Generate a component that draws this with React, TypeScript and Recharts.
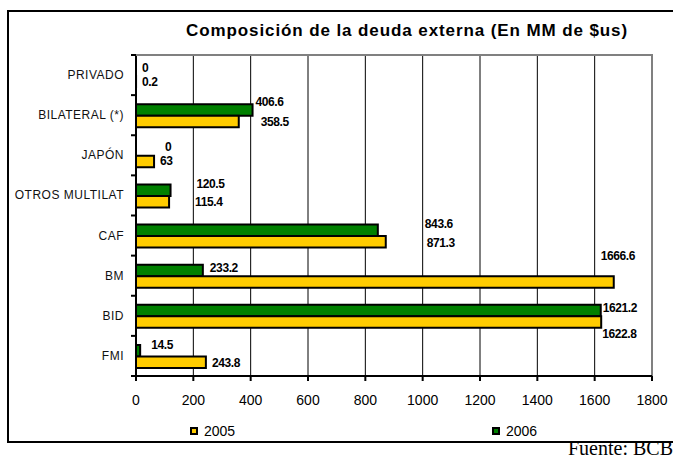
import React from "react";
import {
  BarChart,
  Bar,
  XAxis,
  YAxis,
  CartesianGrid,
  ReferenceDot,
} from "recharts";

// datos (MM de $us)
const categories = [
  "PRIVADO",
  "BILATERAL (*)",
  "JAPÓN",
  "OTROS MULTILAT",
  "CAF",
  "BM",
  "BID",
  "FMI",
];
const values2005 = [0.2, 358.5, 63, 115.4, 871.3, 1666.6, 1622.8, 243.8];
const values2006 = [0, 406.6, 0, 120.5, 843.6, 233.2, 1621.2, 14.5];
const xTicks = [0, 200, 400, 600, 800, 1000, 1200, 1400, 1600, 1800];
const seriesNames = ["2005", "2006"];

// label placement tweaks (Excel moved some labels by hand)
const nudge2006 = [[6, -1], [3, -7], [29, -3], [26, -6], [47, -6], [7, -2], [2, -2], [11, -5]];
const nudge2005 = [[6, 1], [22, 1], [6, 0], [26, 1], [41, 2], [-13, -25], [1, 12], [6, 1]];

const GREEN = "#008000";
const YELLOW = "#FFCC00";
const FONT = "'Liberation Sans', Arial, sans-serif";

const W = 673;
const H = 458;
const PLOT_LEFT = 136;
const PLOT_TOP = 55;
const PLOT_RIGHT = 652;
const PLOT_BOTTOM = 376;
const HALF_BAND = (PLOT_BOTTOM - PLOT_TOP) / categories.length / 2;
const BAR = 11.5;

const data = categories.map((name, i) => ({
  name,
  v2005: values2005[i],
  v2006: values2006[i],
}));

// one label per bar, anchored at (value, category) through the chart scales
const valueLabels = categories.flatMap((cat, i) => [
  { key: `a${i}`, cat, value: values2006[i], nudge: nudge2006[i], shift: -BAR / 2 },
  { key: `b${i}`, cat, value: values2005[i], nudge: nudge2005[i], shift: BAR / 2 },
]);

const renderValue = (p: any, d: any) => {
  const vb = p.viewBox || {};
  const [dx, dy] = d.nudge;
  return (
    <text
      x={vb.x + dx}
      y={vb.y + d.shift + dy}
      dominantBaseline="central"
      textAnchor="start"
      fontFamily={FONT}
      fontWeight="bold"
      fontSize={12}
      letterSpacing={-0.4}
      fill="#000"
    >
      {String(d.value)}
    </text>
  );
};

const CategoryTick = (props: any) => {
  const { y, payload, index } = props;
  const last = index === categories.length - 1;
  return (
    <g>
      <text
        x={PLOT_LEFT - 12}
        y={y}
        textAnchor="end"
        dominantBaseline="central"
        fontFamily={FONT}
        fontSize={12}
        letterSpacing={0.5}
        fill="#111"
      >
        {payload.value}
      </text>
      <line
        x1={PLOT_LEFT - 5}
        x2={PLOT_LEFT}
        y1={y - HALF_BAND}
        y2={y - HALF_BAND}
        stroke="#000"
        strokeWidth={2}
      />
      {last && (
        <line
          x1={PLOT_LEFT - 5}
          x2={PLOT_LEFT}
          y1={y + HALF_BAND}
          y2={y + HALF_BAND}
          stroke="#000"
          strokeWidth={2}
        />
      )}
    </g>
  );
};

export default function App() {
  return (
    <div
      style={{
        position: "absolute",
        left: 0,
        top: 0,
        width: W,
        height: H,
        overflow: "hidden",
        background: "#fff",
        fontFamily: FONT,
      }}
    >
      {/* marco exterior */}
      <div
        style={{
          position: "absolute",
          left: 7,
          top: 10,
          width: 700,
          height: 433,
          border: "2px solid #000",
          boxSizing: "border-box",
        }}
      />
      <div style={{ position: "absolute", left: 0, top: 0 }}>
        <BarChart
          width={W}
          height={H}
          data={data}
          layout="vertical"
          margin={{
            top: PLOT_TOP,
            right: W - PLOT_RIGHT,
            left: PLOT_LEFT - 120,
            bottom: H - PLOT_BOTTOM - 30,
          }}
          barGap={0}
          barSize={BAR}
        >
          <CartesianGrid
            horizontal={false}
            vertical={true}
            stroke="#000"
            strokeWidth={1}
          />
          <XAxis
            type="number"
            domain={[0, 1800]}
            ticks={xTicks}
            interval={0}
            height={30}
            tickSize={5}
            tickMargin={14}
            axisLine={{ stroke: "#000", strokeWidth: 2 }}
            tickLine={{ stroke: "#000", strokeWidth: 2 }}
            tick={{ fill: "#000", fontSize: 14, fontFamily: FONT }}
          />
          <YAxis
            type="category"
            dataKey="name"
            width={120}
            interval={0}
            tickLine={false}
            axisLine={{ stroke: "#000", strokeWidth: 2 }}
            tick={<CategoryTick />}
          />
          <Bar
            dataKey="v2006"
            name={seriesNames[1]}
            fill={GREEN}
            stroke="#000"
            strokeWidth={2}
            isAnimationActive={false}
          />
          <Bar
            dataKey="v2005"
            name={seriesNames[0]}
            fill={YELLOW}
            stroke="#000"
            strokeWidth={2}
            isAnimationActive={false}
          />
          {valueLabels.map((d) => (
            <ReferenceDot
              key={d.key}
              x={d.value}
              y={d.cat}
              r={0}
              fill="none"
              stroke="none"
              ifOverflow="visible"
              label={(p: any) => renderValue(p, d)}
            />
          ))}
        </BarChart>
      </div>
      {/* borde gris superior y derecho del área de trazado */}
      <div
        style={{
          position: "absolute",
          left: PLOT_LEFT,
          top: PLOT_TOP - 1,
          width: PLOT_RIGHT - PLOT_LEFT + 1,
          height: PLOT_BOTTOM - PLOT_TOP,
          borderTop: "2px solid #808080",
          borderRight: "2px solid #808080",
          boxSizing: "border-box",
          pointerEvents: "none",
        }}
      />
      {/* título */}
      <div
        style={{
          position: "absolute",
          left: 107,
          top: 23,
          width: 600,
          textAlign: "center",
          fontWeight: "bold",
          fontSize: 17,
          letterSpacing: 0.9,
          lineHeight: "16px",
          color: "#000",
        }}
      >
        Composición de la deuda externa (En MM de $us)
      </div>
      {/* leyenda */}
      {[
        { name: seriesNames[0], color: YELLOW, left: 190 },
        { name: seriesNames[1], color: GREEN, left: 492 },
      ].map((it) => (
        <div
          key={it.name}
          style={{
            position: "absolute",
            left: it.left,
            top: 424,
            display: "flex",
            alignItems: "center",
            fontSize: 14,
            lineHeight: "14px",
            color: "#000",
          }}
        >
          <span
            style={{
              display: "inline-block",
              width: 8,
              height: 8,
              background: it.color,
              border: "2px solid #000",
              boxSizing: "border-box",
              marginRight: 6,
            }}
          />
          {it.name}
        </div>
      ))}
      <div
        style={{
          position: "absolute",
          right: 0,
          top: 438,
          fontFamily: "'Liberation Serif', 'Times New Roman', serif",
          fontSize: 20,
          lineHeight: "20px",
          color: "#000",
          whiteSpace: "nowrap",
        }}
      >
        Fuente: BCB
      </div>
    </div>
  );
}
